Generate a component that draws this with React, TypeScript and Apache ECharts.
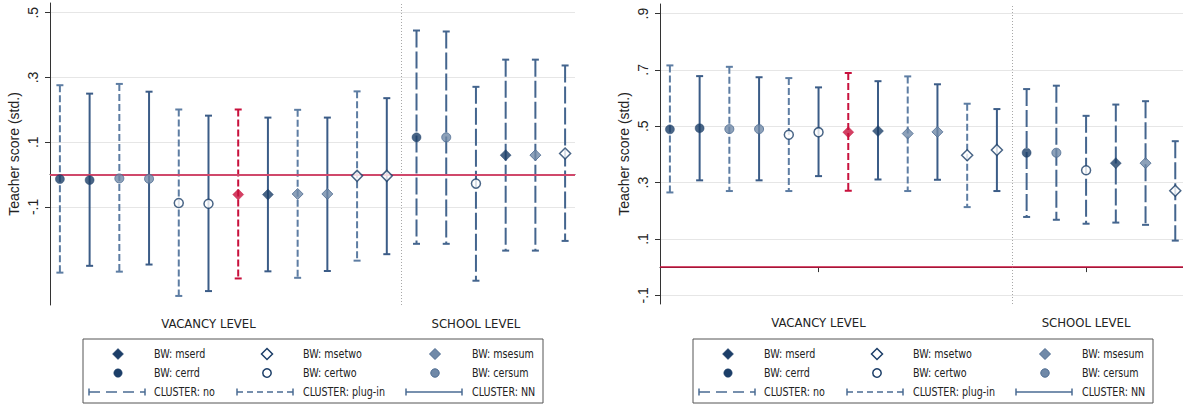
import { useEffect, useRef } from "react";
import * as echarts from "echarts";

// ---------- data ----------
const positions = [1, 2, 3, 4, 5, 6, 7, 8, 9, 10, 11, 12, 13, 14, 15, 16, 17, 18];
const bandwidths = [
  "cerrd", "cerrd", "cersum", "cersum", "certwo", "certwo",
  "mserd", "mserd", "msesum", "msesum", "msetwo", "msetwo",
  "cerrd", "cersum", "certwo", "mserd", "msesum", "msetwo",
];
const clusters = [
  "plug-in", "NN", "plug-in", "NN", "plug-in", "NN",
  "plug-in", "NN", "plug-in", "NN", "plug-in", "NN",
  "no", "no", "no", "no", "no", "no",
];
const highlightedIndex = 6;

const leftEst = [-0.014, -0.017, -0.012, -0.013, -0.088, -0.09, -0.062, -0.062, -0.06, -0.06, -0.004, -0.004, 0.115, 0.115, -0.028, 0.06, 0.06, 0.065];
const leftLo = [-0.303, -0.282, -0.3, -0.278, -0.375, -0.36, -0.321, -0.299, -0.319, -0.298, -0.266, -0.246, -0.214, -0.214, -0.328, -0.235, -0.235, -0.205];
const leftHi = [0.276, 0.25, 0.28, 0.256, 0.201, 0.182, 0.201, 0.176, 0.2, 0.176, 0.257, 0.236, 0.445, 0.442, 0.271, 0.355, 0.355, 0.337];

const rightEst = [0.489, 0.493, 0.49, 0.49, 0.47, 0.479, 0.479, 0.483, 0.474, 0.48, 0.397, 0.416, 0.406, 0.406, 0.344, 0.369, 0.369, 0.271];
const rightLo = [0.265, 0.308, 0.27, 0.308, 0.27, 0.323, 0.271, 0.311, 0.27, 0.31, 0.213, 0.27, 0.178, 0.168, 0.154, 0.158, 0.15, 0.094];
const rightHi = [0.716, 0.678, 0.711, 0.674, 0.671, 0.638, 0.689, 0.66, 0.677, 0.649, 0.58, 0.561, 0.632, 0.644, 0.537, 0.577, 0.589, 0.447];

const leftYTicks = [-0.1, 0.1, 0.3, 0.5];
const leftYLabels = ["-.1", ".1", ".3", ".5"];
const rightYTicks = [-0.1, 0.1, 0.3, 0.5, 0.7, 0.9];
const rightYLabels = ["-.1", ".1", ".3", ".5", ".7", ".9"];
const xTicks = [6, 15];
const xLabels = ["VACANCY LEVEL", "SCHOOL LEVEL"];
const dividerPosition = 12.5;

const yTitle = "Teacher score (std.)";
const legendRows = [
  ["mserd", "msetwo", "msesum"],
  ["cerrd", "certwo", "cersum"],
];
const legendClusters = ["no", "plug-in", "NN"];

// ---------- styles ----------
const NAVY = "#1c3e68";
const GREYBLUE = "#7089a8";
const GREYBLUE_EDGE = "#4d6b91";
const RED = "#c8103c";
const ZERO_RED = "#d0486b";
const NARROW = "'Liberation Sans Narrow', 'DejaVu Sans Condensed', 'Roboto Condensed', sans-serif";
const SANS = "'Liberation Sans', Arial, sans-serif";

const clusterStyle: Record<string, { color: string; dash: number[] | null }> = {
  "plug-in": { color: "#5d7da3", dash: [7, 3] },
  NN: { color: "#3b5c87", dash: null },
  no: { color: "#44658e", dash: [17, 4] },
};

function markerStyle(bw: string) {
  const isDiamond = bw.startsWith("mse");
  const kind = bw.endsWith("rd") ? "solid" : bw.endsWith("two") ? "open" : "grey";
  const symbol = isDiamond ? "diamond" : "circle";
  const symbolSize = isDiamond ? 11 : 9;
  let itemStyle: any;
  if (kind === "solid") itemStyle = { color: NAVY, borderColor: NAVY, borderWidth: 0.5 };
  else if (kind === "open") itemStyle = { color: "#ffffff", borderColor: NAVY, borderWidth: 1.5 };
  else itemStyle = { color: GREYBLUE, borderColor: GREYBLUE_EDGE, borderWidth: 1 };
  return { symbol, symbolSize, itemStyle, isDiamond, kind };
}

function labelFor(ticks: number[], labels: string[]) {
  return (v: number) => {
    let best = 0;
    for (let i = 1; i < ticks.length; i++) if (Math.abs(ticks[i] - v) < Math.abs(ticks[best] - v)) best = i;
    return labels[best];
  };
}

function buildSeries(axisIdx: number, est: number[], lo: number[], hi: number[], zeroWidth: number, zeroColor: string) {
  const barData = positions.map((p, i) => [p, lo[i], hi[i], i]);
  const series: any[] = [
    {
      type: "custom",
      xAxisIndex: axisIdx,
      yAxisIndex: axisIdx,
      silent: true,
      z: 3,
      data: barData,
      renderItem: (_params: any, api: any) => {
        const x = api.value(0);
        const i = api.value(3);
        const top = api.coord([x, api.value(2)]);
        const bot = api.coord([x, api.value(1)]);
        const cs = clusterStyle[clusters[i]];
        const color = i === highlightedIndex ? RED : cs.color;
        const lw = 2;
        return {
          type: "group",
          children: [
            {
              type: "line",
              shape: { x1: top[0], y1: top[1], x2: bot[0], y2: bot[1] },
              style: { stroke: color, lineWidth: lw, lineDash: cs.dash || undefined },
            },
            {
              type: "line",
              shape: { x1: top[0] - 3.5, y1: top[1], x2: top[0] + 3.5, y2: top[1] },
              style: { stroke: color, lineWidth: lw },
            },
            {
              type: "line",
              shape: { x1: bot[0] - 3.5, y1: bot[1], x2: bot[0] + 3.5, y2: bot[1] },
              style: { stroke: color, lineWidth: lw },
            },
          ],
        };
      },
      markLine: {
        silent: true,
        symbol: ["none", "none"],
        label: { show: false },
        animation: false,
        data: [
          { xAxis: dividerPosition, lineStyle: { color: "#a8a8a8", type: [1, 2], width: 1 } },
          { yAxis: 0, lineStyle: { color: zeroColor, type: "solid", width: zeroWidth } },
        ],
      },
    },
  ];
  const types = ["cerrd", "cersum", "certwo", "mserd", "msesum", "msetwo"];
  types.forEach((bw) => {
    const ms = markerStyle(bw);
    const data = positions
      .map((p, i) => ({ p, i }))
      .filter(({ i }) => bandwidths[i] === bw && i !== highlightedIndex)
      .map(({ p, i }) => [p, est[i]]);
    series.push({
      type: "scatter",
      xAxisIndex: axisIdx,
      yAxisIndex: axisIdx,
      silent: true,
      z: 5,
      symbol: ms.symbol,
      symbolSize: ms.symbolSize,
      itemStyle: ms.itemStyle,
      data,
    });
  });
  const hms = markerStyle(bandwidths[highlightedIndex]);
  series.push({
    type: "scatter",
    xAxisIndex: axisIdx,
    yAxisIndex: axisIdx,
    silent: true,
    z: 6,
    symbol: hms.symbol,
    symbolSize: hms.symbolSize,
    itemStyle: { color: RED, borderColor: RED, borderWidth: 0.5 },
    data: [[positions[highlightedIndex], est[highlightedIndex]]],
  });
  return series;
}

function legendGraphic(L: number, T: number) {
  const W = 460;
  const H = 64;
  const rowsY = [T + 15, T + 34, T + 53];
  const markerX = [L + 35, L + 184, L + 352];
  const textX = [L + 71, L + 220, L + 389];
  const lineX = [[L + 6, L + 62], [L + 154, L + 210], [L + 323, L + 379]];
  const els: any[] = [
    {
      type: "rect",
      shape: { x: L, y: T, width: W, height: H },
      style: { fill: "#ffffff", stroke: "#555555", lineWidth: 1 },
      z: 10,
    },
  ];
  const textStyle = (t: string, x: number, y: number) => ({
    type: "text",
    x,
    y,
    scaleX: 0.85,
    z: 11,
    style: { text: t, fill: "#222222", fontSize: 12.5, fontFamily: NARROW, verticalAlign: "middle", align: "left" },
  });
  legendRows.forEach((row, r) => {
    row.forEach((bw, c) => {
      const ms = markerStyle(bw);
      const cx = markerX[c];
      const cy = rowsY[r];
      const st = ms.itemStyle;
      if (ms.isDiamond) {
        els.push({
          type: "polygon",
          z: 11,
          shape: { points: [[cx, cy - 5.5], [cx + 5.5, cy], [cx, cy + 5.5], [cx - 5.5, cy]] },
          style: { fill: st.color, stroke: st.borderColor, lineWidth: st.borderWidth },
        });
      } else {
        els.push({
          type: "circle",
          z: 11,
          shape: { cx, cy, r: 4.2 },
          style: { fill: st.color, stroke: st.borderColor, lineWidth: st.borderWidth },
        });
      }
      els.push(textStyle("BW: " + bw, textX[c], cy));
    });
  });
  legendClusters.forEach((cl, c) => {
    const y = rowsY[2];
    const [x1, x2] = lineX[c];
    const color = "#4a6b93";
    els.push({
      type: "line",
      z: 11,
      shape: { x1, y1: y, x2, y2: y },
      style: { stroke: color, lineWidth: 1.5, lineDash: cl === "no" ? [11, 6] : cl === "plug-in" ? [6, 4] : undefined },
    });
    els.push({ type: "line", z: 11, shape: { x1, y1: y - 3.5, x2: x1, y2: y + 3.5 }, style: { stroke: color, lineWidth: 1.5 } });
    els.push({ type: "line", z: 11, shape: { x1: x2, y1: y - 3.5, x2, y2: y + 3.5 }, style: { stroke: color, lineWidth: 1.5 } });
    els.push(textStyle("CLUSTER: " + cl, textX[c], y));
  });
  return els;
}

function xAxisDef(gridIndex: number, max: number) {
  return {
    type: "value",
    gridIndex,
    min: 0.667,
    max,
    axisLine: { show: true, lineStyle: { color: "#333333", width: 1 } },
    axisTick: { show: true, customValues: xTicks, length: 5, lineStyle: { color: "#333333" } },
    axisLabel: {
      customValues: xTicks,
      formatter: labelFor(xTicks, xLabels),
      color: "#222222",
      fontSize: 13,
      fontFamily: NARROW,
      margin: 12,
    },
    splitLine: { show: false },
  };
}

function yAxisDef(gridIndex: number, min: number, max: number, ticks: number[], labels: string[]) {
  return {
    type: "value",
    gridIndex,
    min,
    max,
    name: yTitle,
    nameLocation: "middle",
    nameRotate: 90,
    nameGap: 29,
    nameTextStyle: { color: "#222222", fontSize: 14, fontFamily: SANS },
    axisLine: { show: true, lineStyle: { color: "#333333", width: 1 } },
    axisTick: { show: true, customValues: ticks, length: 5, lineStyle: { color: "#333333" } },
    axisLabel: {
      customValues: ticks,
      formatter: labelFor(ticks, labels),
      rotate: 90,
      color: "#222222",
      fontSize: 14,
      fontFamily: SANS,
      margin: 10,
    },
    splitLine: { show: true, lineStyle: { color: "#e6e6e6", width: 1 } },
  };
}

export default function App() {
  const ref = useRef<HTMLDivElement>(null);
  useEffect(() => {
    if (!ref.current) return;
    const chart = echarts.init(ref.current, undefined, { renderer: "svg" });
    chart.setOption({
      animation: false,
      backgroundColor: "#ffffff",
      grid: [
        { left: 50, top: 3, width: 525, height: 302 },
        { left: 660, top: 4, width: 523, height: 300 },
      ],
      xAxis: [xAxisDef(0, 18.333), xAxisDef(1, 18.26)],
      yAxis: [
        yAxisDef(0, -0.403, 0.53, leftYTicks, leftYLabels),
        yAxisDef(1, -0.131, 0.934, rightYTicks, rightYLabels),
      ],
      series: [
        ...buildSeries(0, leftEst, leftLo, leftHi, 2, ZERO_RED),
        ...buildSeries(1, rightEst, rightLo, rightHi, 1.5, RED),
      ],
      graphic: [...legendGraphic(83, 339), ...legendGraphic(693, 339)],
    });
    return () => chart.dispose();
  }, []);
  return (
    <div
      ref={ref}
      style={{ position: "absolute", left: 0, top: 0, width: 1183, height: 406, background: "#fff" }}
    />
  );
}
